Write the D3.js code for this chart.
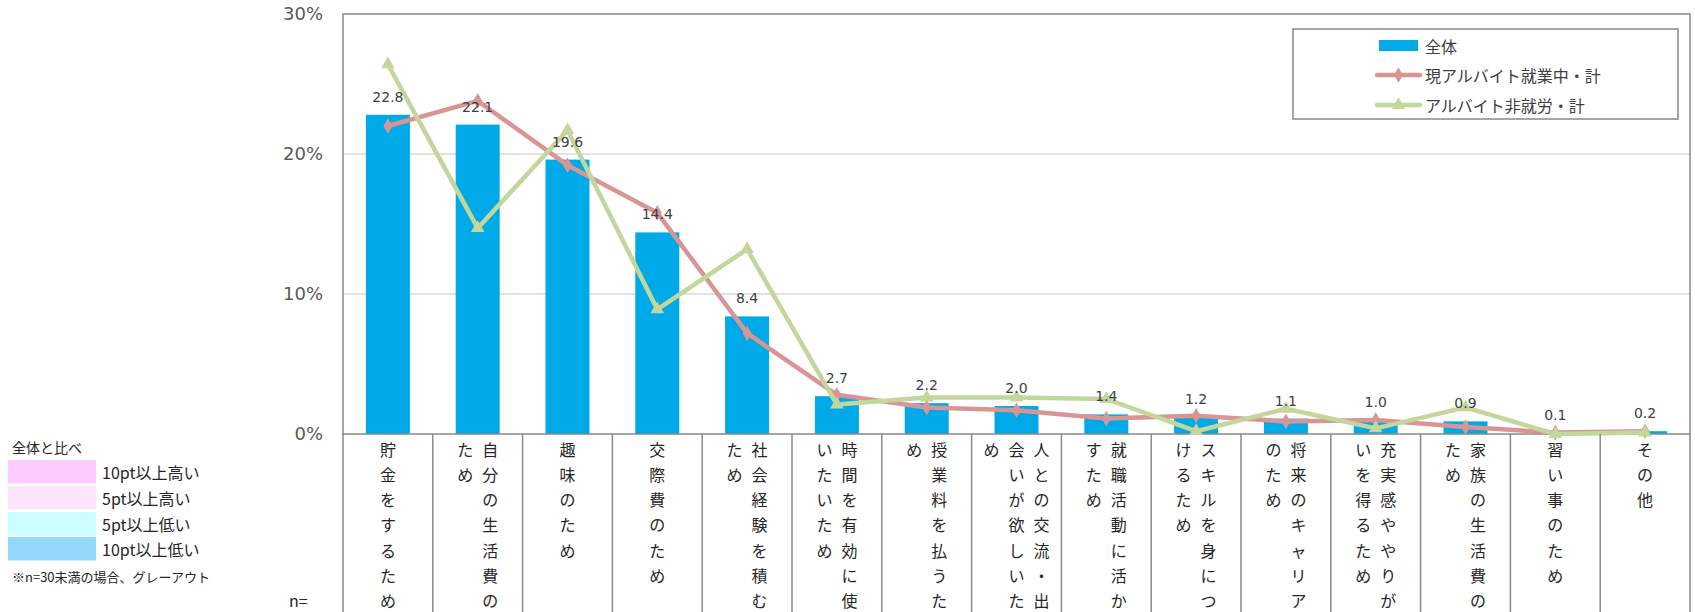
<!DOCTYPE html>
<html><head><meta charset="utf-8">
<script src="https://cdn.jsdelivr.net/npm/d3@7"></script>
<style>
html,body{margin:0;padding:0;background:#fff;overflow:hidden;}
svg{display:block;}
</style></head>
<body>
<svg id="c" width="1695" height="612"></svg>
<script>
const categories = ["貯金をするため","自分の生活費のため","趣味のため","交際費のため","社会経験を積むため","時間を有効に使いたいため","授業料を払うため","人との交流・出会いが欲しいため","就職活動に活かすため","スキルを身につけるため","将来のキャリアのため","充実感ややりがいを得るため","家族の生活費のため","習い事のため","その他"];
const totalValues = [22.8,22.1,19.6,14.4,8.4,2.7,2.2,2.0,1.4,1.2,1.1,1.0,0.9,0.1,0.2];
const workingValues = [22.0,23.8,19.2,15.8,7.2,2.8,1.9,1.7,1.1,1.3,0.9,1.0,0.5,0.1,0.2];
const notWorkingValues = [26.4,14.7,21.7,8.9,13.2,2.1,2.6,2.6,2.5,0.2,1.8,0.4,1.9,0.0,0.1];
const yTicks = [0,10,20,30];
const seriesNames = ["全体","現アルバイト就業中・計","アルバイト非就労・計"];
const compareTitle = "全体と比べ";
const compareLabels = ["10pt以上高い","5pt以上高い","5pt以上低い","10pt以上低い"];
const compareColors = ["#ffccff","#ffe5fb","#ccffff","#93dafa"];
const noteText = "※n=30未満の場合、グレーアウト";

const svg = d3.select("#c");
const L = 343, R = 1690, T = 14, B = 434;
const x = d3.scaleBand().domain(categories).range([L, R]).padding(0);
const y = d3.scaleLinear().domain([0,30]).range([B, T]);
const numFont = "'DejaVu Sans', Verdana, sans-serif";
const jpFont = "'Noto Sans CJK JP', sans-serif";
const barColor = "#00a9e8", pinkColor = "#d99594", greenColor = "#c3d69b";

// gridlines
svg.append("g").selectAll("line").data(yTicks.filter(d => d > 0 && d < 30)).join("line")
  .attr("x1", L).attr("x2", R).attr("y1", d => y(d)).attr("y2", d => y(d))
  .attr("stroke", "#d9d9d9").attr("stroke-width", 1.5);

// bars
const bw = x.bandwidth() * 0.49;
svg.append("g").selectAll("rect").data(totalValues).join("rect")
  .attr("x", (d,i) => x(categories[i]) + x.bandwidth()/2 - bw/2)
  .attr("y", d => y(d)).attr("width", bw).attr("height", d => B - y(d))
  .attr("fill", barColor);

// border
svg.append("rect").attr("x", L).attr("y", T).attr("width", R-L).attr("height", B-T)
  .attr("fill", "none").attr("stroke", "#898989").attr("stroke-width", 1.5);

// y axis labels
svg.append("g").selectAll("text").data(yTicks).join("text")
  .attr("x", 323).attr("y", d => y(d)).attr("dy", "0.36em")
  .attr("text-anchor", "end").attr("font-family", numFont).attr("font-size", 18)
  .attr("fill", "#595959").text(d => d + "%");

// lines
const cx = i => x(categories[i]) + x.bandwidth()/2;
const lineGen = d3.line().x((d,i) => cx(i)).y(d => y(d));
svg.append("path").datum(workingValues).attr("d", lineGen)
  .attr("fill","none").attr("stroke", pinkColor).attr("stroke-width", 4.5).attr("stroke-linejoin","round");
svg.append("g").selectAll("path").data(workingValues).join("path")
  .attr("d", d3.symbol(d3.symbolDiamond, 70))
  .attr("transform", (d,i) => `translate(${cx(i)},${y(d)})`).attr("fill", pinkColor);
svg.append("path").datum(notWorkingValues).attr("d", lineGen)
  .attr("fill","none").attr("stroke", greenColor).attr("stroke-width", 4.5).attr("stroke-linejoin","round");
svg.append("g").selectAll("path").data(notWorkingValues).join("path")
  .attr("d", d3.symbol(d3.symbolTriangle, 80))
  .attr("transform", (d,i) => `translate(${cx(i)},${y(d)})`).attr("fill", greenColor);

// value labels
svg.append("g").selectAll("text").data(totalValues).join("text")
  .attr("x", (d,i) => cx(i)).attr("y", d => y(d) - 13)
  .attr("text-anchor","middle").attr("font-family", numFont).attr("font-size", 14)
  .attr("fill","#404040").text(d => d.toFixed(1));

// category table dividers
const bounds = categories.map(c => x(c)).concat([R]);
svg.append("g").selectAll("line").data(bounds).join("line")
  .attr("x1", d => d).attr("x2", d => d).attr("y1", B).attr("y2", 612)
  .attr("stroke", "#898989").attr("stroke-width", 1.5);

// vertical category labels: 7 chars per column, columns right to left
const perCol = 7, colGap = 25, rowGap = 25.3, firstRow = 448.5;
const catG = svg.append("g").attr("font-family", jpFont).attr("font-size", 16).attr("fill", "#262626");
categories.forEach((c, i) => {
  const chars = Array.from(c);
  const nCols = Math.ceil(chars.length / perCol);
  chars.forEach((ch, k) => {
    const col = Math.floor(k / perCol), row = k % perCol;
    const colX = cx(i) + (nCols - 1) * colGap / 2 - col * colGap;
    catG.append("text").attr("x", colX).attr("y", firstRow + row * rowGap)
      .attr("text-anchor","middle").attr("dominant-baseline","central").text(ch);
  });
});

svg.append("text").attr("x", 289).attr("y", 600).attr("dominant-baseline","central")
  .attr("font-family", jpFont).attr("font-size", 16).attr("fill","#262626").text("n=");

// main legend
const lg = svg.append("g");
lg.append("rect").attr("x", 1293).attr("y", 29).attr("width", 385).attr("height", 90)
  .attr("fill","#fff").attr("stroke","#898989").attr("stroke-width", 1.5);
const legY = [45.5, 75, 105];
lg.append("rect").attr("x", 1379).attr("y", legY[0]-5.5).attr("width", 39).attr("height", 11).attr("fill", barColor);
[[pinkColor, d3.symbolDiamond, 70],[greenColor, d3.symbolTriangle, 80]].forEach((s, j) => {
  const yy = legY[j+1];
  lg.append("line").attr("x1", 1377).attr("x2", 1420).attr("y1", yy).attr("y2", yy)
    .attr("stroke", s[0]).attr("stroke-width", 4.5).attr("stroke-linecap","round");
  lg.append("path").attr("d", d3.symbol(s[1], s[2])).attr("transform", `translate(1398.5,${yy})`).attr("fill", s[0]);
});
lg.selectAll("text").data(seriesNames).join("text")
  .attr("x", 1425).attr("y", (d,i) => legY[i]).attr("dominant-baseline","central")
  .attr("font-family", jpFont).attr("font-size", 16).attr("fill","#404040").text(d => d);

// compare legend
const cg = svg.append("g").attr("font-family", jpFont).attr("fill", "#262626");
cg.append("text").attr("x", 12).attr("y", 447).attr("dominant-baseline","central").attr("font-size", 14).text(compareTitle);
const boxY = [460, 486, 512, 537];
compareLabels.forEach((t, i) => {
  cg.append("rect").attr("x", 8).attr("y", boxY[i]).attr("width", 88).attr("height", 23.5).attr("fill", compareColors[i]);
  cg.append("text").attr("x", 102).attr("y", boxY[i] + 12).attr("dominant-baseline","central").attr("font-size", 16).text(t);
});
cg.append("text").attr("x", 12).attr("y", 576).attr("dominant-baseline","central").attr("font-size", 13).text(noteText);
</script>
</body></html>
